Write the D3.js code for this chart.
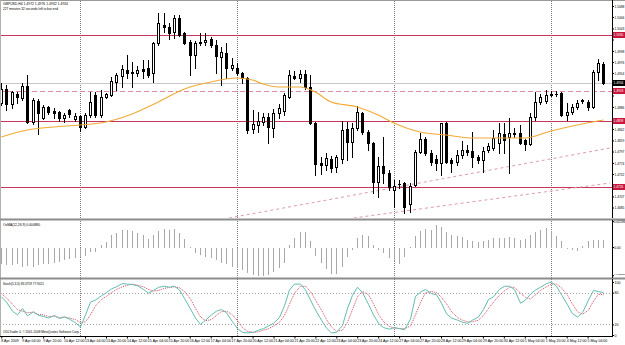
<!DOCTYPE html>
<html><head><meta charset="utf-8">
<script src="https://cdn.jsdelivr.net/npm/d3@7"></script>
<style>html,body{margin:0;padding:0;background:#fff;overflow:hidden}svg{display:block}text{font-family:"Liberation Sans",Arial,sans-serif}</style>
</head><body><svg id="c" width="625" height="345"></svg>
<script>
// ---------- DATA ----------
const opens=[1.4894,1.4922,1.4892,1.4912,1.4904,1.4928,1.4856,1.4898,1.4864,1.4886,
1.4878,1.4876,1.4864,1.4880,1.4862,1.4868,1.4846,1.4870,1.4910,1.4870,
1.4906,1.4910,1.4936,1.4948,1.4960,1.4954,1.4954,1.4962,1.4964,1.4954,
1.5014,1.5050,1.5046,1.5036,1.5064,1.5034,1.5016,1.4990,1.5014,1.5016,
1.5022,1.5010,1.4986,1.4994,1.4964,1.4964,1.4954,1.4944,1.4842,1.4850,
1.4856,1.4866,1.4844,1.4874,1.4878,1.4906,1.4948,1.4944,1.4952,1.4926,
1.4854,1.4774,1.4770,1.4782,1.4766,1.4782,1.4842,1.4816,1.4844,1.4874,
1.4836,1.4814,1.4736,1.4768,1.4754,1.4720,1.4732,1.4734,1.4692,1.4730,
1.4796,1.4822,1.4794,1.4782,1.4774,1.4854,1.4780,1.4776,1.4790,1.4800,
1.4798,1.4786,1.4780,1.4800,1.4804,1.4814,1.4832,1.4826,1.4832,1.4834,
1.4820,1.4812,1.4866,1.4896,1.4898,1.4910,1.4912,1.4914,1.4870,1.4876,
1.4886,1.4900,1.4896,1.4886,1.4956,1.4972];
const highs=[1.4934,1.4930,1.4918,1.4916,1.4934,1.4950,1.4904,1.4902,1.4890,1.4888,
1.4884,1.4878,1.4874,1.4882,1.4874,1.4870,1.4874,1.4916,1.4916,1.4920,
1.4914,1.4946,1.4954,1.4970,1.4990,1.4976,1.4968,1.4980,1.4980,1.5016,
1.5074,1.5074,1.5054,1.5070,1.5070,1.5036,1.5020,1.5018,1.5034,1.5034,
1.5026,1.5020,1.5006,1.5014,1.4984,1.4974,1.4956,1.4946,1.4880,1.4876,
1.4874,1.4874,1.4882,1.4892,1.4914,1.4960,1.4958,1.4960,1.4960,1.4950,
1.4856,1.4786,1.4794,1.4788,1.4790,1.4858,1.4856,1.4854,1.4888,1.4876,
1.4840,1.4816,1.4786,1.4826,1.4760,1.4740,1.4740,1.4736,1.4734,1.4800,
1.4834,1.4826,1.4800,1.4790,1.4854,1.4856,1.4784,1.4800,1.4818,1.4810,
1.4836,1.4790,1.4806,1.4814,1.4840,1.4854,1.4854,1.4864,1.4844,1.4850,
1.4822,1.4874,1.4916,1.4912,1.4920,1.4918,1.4918,1.4916,1.4894,1.4892,
1.4900,1.4902,1.4900,1.4960,1.4982,1.4976];
const lows=[1.4890,1.4880,1.4884,1.4894,1.4900,1.4854,1.4852,1.4832,1.4862,1.4872,
1.4864,1.4858,1.4856,1.4866,1.4858,1.4838,1.4844,1.4866,1.4866,1.4866,
1.4904,1.4908,1.4920,1.4926,1.4944,1.4926,1.4948,1.4944,1.4946,1.4936,
1.5010,1.5036,1.5022,1.5024,1.5028,1.5012,1.4950,1.4964,1.5010,1.5010,
1.5006,1.4954,1.4930,1.4944,1.4960,1.4950,1.4934,1.4834,1.4834,1.4836,
1.4850,1.4814,1.4826,1.4864,1.4870,1.4904,1.4942,1.4936,1.4922,1.4852,
1.4750,1.4752,1.4760,1.4756,1.4756,1.4774,1.4780,1.4786,1.4840,1.4832,
1.4800,1.4714,1.4706,1.4734,1.4720,1.4686,1.4724,1.4674,1.4676,1.4728,
1.4794,1.4790,1.4770,1.4760,1.4750,1.4774,1.4756,1.4770,1.4784,1.4790,
1.4766,1.4774,1.4756,1.4796,1.4800,1.4794,1.4794,1.4754,1.4826,1.4812,
1.4800,1.4810,1.4860,1.4892,1.4894,1.4908,1.4908,1.4868,1.4860,1.4872,
1.4882,1.4894,1.4880,1.4884,1.4940,1.4932];
const closes=[1.4922,1.4892,1.4916,1.4906,1.4928,1.4856,1.4900,1.4874,1.4886,1.4876,
1.4874,1.4864,1.4870,1.4872,1.4868,1.4846,1.4870,1.4896,1.4870,1.4906,
1.4912,1.4938,1.4950,1.4962,1.4954,1.4956,1.4960,1.4958,1.4950,1.5014,
1.5054,1.5046,1.5034,1.5064,1.5030,1.5014,1.4990,1.5014,1.5016,1.5020,
1.5010,1.4988,1.4996,1.4964,1.4970,1.4954,1.4944,1.4840,1.4852,1.4858,
1.4866,1.4846,1.4874,1.4884,1.4910,1.4950,1.4944,1.4952,1.4926,1.4854,
1.4772,1.4770,1.4784,1.4764,1.4786,1.4840,1.4816,1.4844,1.4876,1.4836,
1.4814,1.4736,1.4768,1.4754,1.4726,1.4728,1.4732,1.4686,1.4728,1.4796,
1.4822,1.4794,1.4776,1.4774,1.4854,1.4776,1.4774,1.4790,1.4800,1.4796,
1.4786,1.4780,1.4798,1.4808,1.4824,1.4834,1.4820,1.4834,1.4834,1.4814,
1.4812,1.4866,1.4896,1.4906,1.4910,1.4912,1.4912,1.4870,1.4876,1.4886,
1.4894,1.4898,1.4886,1.4956,1.4974,1.4934];

// moving average read at sample bars
const maIdx=[0,5,10,15,20,25,30,35,40,45,48,50,53,57,60,63,68,72,75,80,85,90,95,100,105,110,115];
const maVals=[1.4826,1.4840,1.4846,1.4850,1.4856,1.4872,1.4896,1.4922,1.4936,1.4944,1.4940,1.4932,1.4926,1.4926,1.4916,1.4896,1.4886,1.4870,1.4854,1.4836,1.4830,1.4824,1.4824,1.4824,1.4838,1.4850,1.4860];

const osma=[-0.0016,-0.0017,-0.0017,-0.0016,-0.0019,-0.0018,-0.0019,-0.0017,-0.0016,-0.0016,
-0.0015,-0.0014,-0.0012,-0.0011,-0.0010,-0.0009,-0.0008,-0.0004,-0.00035,0.0003,
0.0006,0.0013,0.0015,0.0018,0.0018,0.0017,0.0015,0.0013,0.0009,0.0013,
0.0017,0.0019,0.0018,0.0019,0.0015,0.0009,0.0001,-0.0005,-0.0007,-0.0009,
-0.0010,-0.0012,-0.0015,-0.0016,-0.0019,-0.0020,-0.0022,-0.0025,-0.0027,-0.0028,
-0.0028,-0.0027,-0.0024,-0.0020,-0.0015,0.0003,0.0010,0.0016,0.0016,0.0007,
-0.0008,-0.0015,-0.0021,-0.0026,-0.0026,-0.0019,-0.0009,-0.0002,0.0010,0.0013,
0.0012,0.0003,-0.0002,-0.0005,-0.0010,-0.0013,-0.0016,-0.0009,0.0001,0.0012,
0.0017,0.0019,0.0018,0.0023,0.0021,0.0016,0.0013,0.0012,0.0011,0.0008,
0.0007,0.0006,0.0007,0.0008,0.0010,0.0010,0.0010,0.0011,0.0010,0.0008,
0.0009,0.0013,0.0016,0.0018,0.0020,0.0017,0.0012,0.0007,-0.0001,-0.0002,
-0.0003,0.0002,0.0007,0.0008,0.0008,0.0008];

const stochK=[72,62,45,38,50,36,44,37,35,32,37,31,34,30,23,15,38,62,66,74,
80,87,91,97,96,95,93,86,79,84,90,92,90,92,85,69,49,32,20,28,
38,45,48,42,25,12,5,4,5,9,12,17,22,33,55,85,96,96,85,66,
47,28,13,4,5,18,50,75,90,80,58,38,22,14,11,14,12,10,30,73,
81,86,78,76,60,40,32,28,24,22,28,34,48,67,72,86,92,92,86,60,
66,77,85,90,97,100,92,76,57,40,34,42,66,84,82,80];
const stochD=[78,70,58,48,45,42,43,39,38,35,35,33,34,32,29,23,25,38,55,67,
73,80,86,91,94,96,94,91,86,83,84,88,90,91,89,82,68,50,34,27,
29,37,44,45,38,27,14,7,5,6,9,12,17,24,37,58,79,92,92,82,
66,47,29,15,7,9,24,48,72,82,76,59,39,25,16,13,12,12,17,38,
61,80,82,80,71,59,44,33,28,25,25,28,37,50,62,75,83,90,90,79,
71,68,76,84,91,96,96,89,75,58,44,39,47,64,77,76];

const priceTicks=[1.5088,1.5066,1.5043,1.5021,1.4998,1.4976,1.4954,1.4931,1.4909,1.4886,1.4864,1.4842,1.4819,1.4797,1.4774,1.4752,1.4730,1.4707,1.4685];
const levelSolid=[1.5030,1.4858,1.4726];
const levelDashed=[1.4918];
const bidPrice=1.4934;
const trendStartIdx=[43.5,67.3], trendStartP=[1.4664,1.4664];
const trendEndIdx=[116.3,116.3], trendEndP=[1.4804,1.4734];
const weekStarts=[15,45,75,105];
const labelIdx=[0,4,8,12,16,20,24,28,32,36,40,44,48,52,56,60,64,68,72,76,80,84,88,92,96,100,104,108,112];
const timeLabels=["8 Apr 2009","9 Apr 04:00","9 Apr 20:00","10 Apr 12:00","13 Apr 04:00","13 Apr 20:00","14 Apr 12:00","15 Apr 04:00","15 Apr 20:00","16 Apr 12:00","17 Apr 04:00","17 Apr 20:00","20 Apr 12:00","21 Apr 04:00","21 Apr 20:00","22 Apr 12:00","23 Apr 04:00","23 Apr 20:00","24 Apr 12:00","27 Apr 04:00","27 Apr 20:00","28 Apr 12:00","29 Apr 04:00","29 Apr 20:00","30 Apr 12:00","1 May 04:00","1 May 20:00","4 May 12:00","5 May 04:00"];
const osmaTicks=[0.002586,0,-0.002810];
const stochTicks=[100,80,20,0];
const stochLevels=[80,20];

// ---------- DRAW ----------
const svg=d3.select("#c");
const AX=612; // right axis x
const LBLW=9.8; // label width on right axis
const x=d3.scaleLinear().domain([0,115]).range([1.25,603.3]);
const yP=d3.scaleLinear().domain([1.4664,1.5100]).range([218,0]);
const yO=d3.scaleLinear().domain([-0.0030,0.0027]).range([277,220]);
const yS=d3.scaleLinear().domain([0,100]).range([335,282]);
const cx=i=>Math.round(x(i))+0.5;
const py=v=>Math.round(yP(v))+0.5;

svg.append("rect").attr("width",625).attr("height",345).attr("fill","#fff");
const defs=svg.append("defs");
defs.append("clipPath").attr("id","cm").append("rect").attr("x",0).attr("y",1).attr("width",AX).attr("height",217);

// week separators (all panels)
svg.append("g").selectAll("line").data(weekStarts).join("line")
  .attr("x1",d=>cx(d)).attr("x2",d=>cx(d)).attr("y1",1).attr("y2",336)
  .attr("stroke","#7a7a7a").attr("stroke-dasharray","1,1").attr("shape-rendering","crispEdges");

const main=svg.append("g").attr("clip-path","url(#cm)");
// bid line
main.append("line").attr("x1",0).attr("x2",AX).attr("y1",py(bidPrice)).attr("y2",py(bidPrice))
  .attr("stroke","#c8c8c8").attr("shape-rendering","crispEdges");
// levels
main.selectAll("line.lv").data(levelSolid).join("line").attr("class","lv")
  .attr("x1",0).attr("x2",AX).attr("y1",d=>py(d)).attr("y2",d=>py(d))
  .attr("stroke","#c8365e").attr("shape-rendering","crispEdges");
main.selectAll("line.ld").data(levelDashed).join("line").attr("class","ld")
  .attr("x1",0).attr("x2",AX).attr("y1",d=>py(d)).attr("y2",d=>py(d))
  .attr("stroke","#e08aa2").attr("stroke-dasharray","5,3").attr("shape-rendering","crispEdges");
// trend lines
main.selectAll("line.tr").data(trendStartIdx).join("line").attr("class","tr")
  .attr("x1",(d,i)=>x(d)).attr("y1",(d,i)=>yP(trendStartP[i]))
  .attr("x2",(d,i)=>x(trendEndIdx[i])).attr("y2",(d,i)=>yP(trendEndP[i]))
  .attr("stroke","#dc9cac").attr("stroke-dasharray","3,3");

// candles
const idx=d3.range(opens.length);
const cg=main.append("g").attr("shape-rendering","crispEdges");
cg.selectAll("line.w").data(idx).join("line").attr("class","w")
  .attr("x1",cx).attr("x2",cx).attr("y1",i=>py(highs[i])-0.5).attr("y2",i=>py(lows[i])+0.5)
  .attr("stroke","#000");
idx.forEach(i=>{
  const o=opens[i],c=closes[i];
  const top=py(Math.max(o,c)), bot=py(Math.min(o,c));
  const X=cx(i);
  if(top===bot){
    cg.append("line").attr("x1",X-1.5).attr("x2",X+1.5).attr("y1",top).attr("y2",top).attr("stroke","#000");
  } else if(c>o){
    cg.append("rect").attr("x",X-1).attr("y",top).attr("width",2).attr("height",bot-top)
      .attr("fill","#fff").attr("stroke","#000");
  } else {
    cg.append("rect").attr("x",X-1.5).attr("y",top-0.5).attr("width",3).attr("height",bot-top+1)
      .attr("fill","#000");
  }
});
// moving average
main.append("path").datum(maIdx).attr("fill","none").attr("stroke","#f0aa35").attr("stroke-width",1.1)
  .attr("d",d3.line().x(d=>x(d)).y((d,i)=>yP(maVals[i])).curve(d3.curveMonotoneX));

// OsMA
svg.append("g").attr("shape-rendering","crispEdges").selectAll("line").data(idx).join("line")
  .attr("x1",cx).attr("x2",cx).attr("y1",Math.round(yO(0))+0.5).attr("y2",i=>Math.round(yO(osma[i]))+0.5)
  .attr("stroke","#a8a8a8");

// Stoch levels
svg.append("g").selectAll("line").data(stochLevels).join("line")
  .attr("x1",0).attr("x2",AX).attr("y1",d=>Math.round(yS(d))+0.5).attr("y2",d=>Math.round(yS(d))+0.5)
  .attr("stroke","#a0a0a0").attr("stroke-dasharray","1,2").attr("shape-rendering","crispEdges");
svg.append("path").datum(idx).attr("fill","none").attr("stroke","#d04a5a").attr("stroke-dasharray","1,1")
  .attr("d",d3.line().x(cx).y(i=>yS(stochD[i])));
svg.append("path").datum(idx).attr("fill","none").attr("stroke","#62bcb2").attr("stroke-width",1)
  .attr("d",d3.line().x(cx).y(i=>yS(stochK[i])));

// frames / separators
svg.append("line").attr("x1",0).attr("x2",625).attr("y1",0.5).attr("y2",0.5).attr("stroke","#9a9a9a");
svg.append("line").attr("x1",0.5).attr("x2",0.5).attr("y1",0).attr("y2",337).attr("stroke","#b0b0b0");
svg.append("rect").attr("x",0).attr("y",218.5).attr("width",625).attr("height",2).attr("fill","#8c8c8c");
svg.append("rect").attr("x",0).attr("y",277.5).attr("width",625).attr("height",2).attr("fill","#8c8c8c");

// right price axis (hide tick labels covered by level tags)
const tagVals=levelSolid.concat(levelDashed,[bidPrice]);
const fmt4=d3.format(".4f");
const pa=svg.append("g").attr("transform",`translate(${AX+0.5},0)`)
  .call(d3.axisRight(yP).tickValues(priceTicks).tickSize(1.5).tickPadding(0.5).tickFormat(fmt4));
pa.select(".domain").attr("d","M0,0V218").attr("stroke","#000");
pa.selectAll("text").attr("font-size",3.6).attr("fill","#000")
  .attr("textLength",LBLW).attr("lengthAdjust","spacingAndGlyphs")
  .style("display",d=>tagVals.some(v=>Math.abs(yP(v)-yP(d))<5.5)?"none":null);
pa.selectAll("line").attr("stroke","#000");

const oa=svg.append("g").attr("transform",`translate(${AX+0.5},0)`)
  .call(d3.axisRight(yO).tickValues(osmaTicks).tickSize(1.5).tickPadding(0).tickFormat(d=>d===0?"0.00":d3.format(".6f")(d)));
oa.select(".domain").attr("d","M0,220V278").attr("stroke","#000");
oa.selectAll("text").attr("font-size",d=>d===0?3.4:(d<0?2.4:2.7)).attr("fill","#000")
  .attr("dy",d=>d>0?"1.2":(d<0?"-0.2":"0.32em"));
oa.selectAll("line").attr("stroke","#000");

const sa=svg.append("g").attr("transform",`translate(${AX+0.5},0)`)
  .call(d3.axisRight(yS).tickValues(stochTicks).tickSize(1.5).tickPadding(0.5).tickFormat(d3.format("d")));
sa.select(".domain").attr("d","M0,279V337").attr("stroke","#000");
sa.selectAll("text").attr("font-size",3.6).attr("fill","#000");
sa.selectAll("line").attr("stroke","#000");

// level labels on axis
function tag(v,fill){
  const y=yP(v);
  svg.append("rect").attr("x",AX+1).attr("y",y-3).attr("width",625-AX-1).attr("height",6).attr("fill",fill);
  svg.append("text").attr("x",AX+1.5).attr("y",y+1.3).attr("font-size",3.6).attr("fill","#fff")
    .attr("textLength",LBLW).attr("lengthAdjust","spacingAndGlyphs").text(fmt4(v));
}
levelSolid.forEach(v=>tag(v,"#c8163e"));
levelDashed.forEach(v=>tag(v,"#c8163e"));
tag(bidPrice,"#000");

// bottom time axis
const ta=svg.append("g").attr("transform","translate(0,336.5)")
  .call(d3.axisBottom(x).tickValues(labelIdx).tickSize(2).tickPadding(1).tickFormat((d,i)=>timeLabels[i]));
ta.select(".domain").attr("d","M0,0H"+(AX+1)).attr("stroke","#000");
ta.selectAll("line").attr("stroke","#000");
ta.selectAll("text").attr("font-size",3.6).attr("fill","#000").attr("text-anchor","start").attr("dx",-0.5);

// texts
const t=(xx,yy,s,fs)=>svg.append("text").attr("x",xx).attr("y",yy).attr("font-size",fs).attr("fill","#000").text(s);
t(3,5,"GBPUSD,H4  1.4972 1.4976 1.4932 1.4934",3.4);
t(3,9.5,"227 minutes 32 seconds left to bar end",3.2);
t(3,225.5,"OsMA(12,26,9) 0.000880",3.3);
t(3,284.5,"Stoch(5,3,3) 83.3759 77.9021",3.1);
t(3,333,"ODLTrader 4, \u00a9 2001-2008 MetaQuotes Software Corp.",3.1);
</script></body></html>
